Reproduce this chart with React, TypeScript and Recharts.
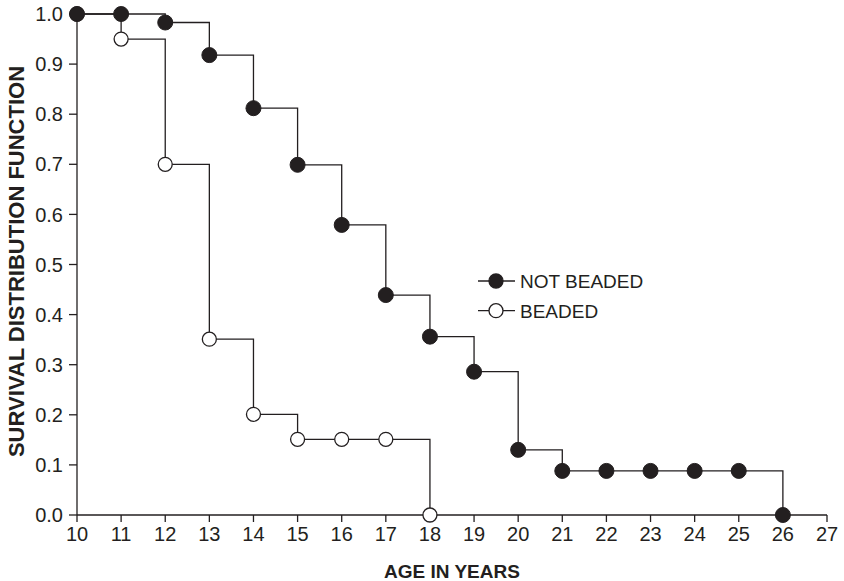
import { Line, LineChart, XAxis, YAxis } from "recharts";

const ages = [10, 11, 12, 13, 14, 15, 16, 17, 18, 19, 20, 21, 22, 23, 24, 25, 26];
const notBeaded = [1.0, 1.0, 0.983, 0.918, 0.812, 0.699, 0.579, 0.439, 0.356, 0.286, 0.13, 0.088, 0.088, 0.088, 0.088, 0.088, 0.0];
const beaded = [1.0, 0.95, 0.7, 0.351, 0.201, 0.151, 0.151, 0.151, 0.0];
const xTicks = [10, 11, 12, 13, 14, 15, 16, 17, 18, 19, 20, 21, 22, 23, 24, 25, 26, 27];
const yTicks = [0, 0.1, 0.2, 0.3, 0.4, 0.5, 0.6, 0.7, 0.8, 0.9, 1.0];

const notBeadedData = ages.map((age, i) => ({ age, value: notBeaded[i] }));
const beadedData = beaded.map((value, i) => ({ age: ages[i], value }));

const FONT = "'Liberation Sans', Arial, sans-serif";
const INK = "#231f20";

// legend sits inside the plot, right of the curves
function LegendBox() {
  const rows = [
    { label: "NOT BEADED", fill: INK },
    { label: "BEADED", fill: "#fff" },
  ];
  return (
    <svg width={200} height={60} style={{ position: "absolute", left: 478, top: 271, overflow: "visible" }}>
      {rows.map((r, i) => (
        <g key={r.label} transform={`translate(0, ${10 + i * 29.7})`}>
          <line x1={0} x2={37} y1={0} y2={0} stroke={INK} strokeWidth={1.3} />
          <circle cx={18} cy={0} r={7} fill={r.fill} stroke={INK} strokeWidth={1.3} />
          <text x={42} y={7} fontSize={19} fill={INK} fontFamily={FONT}>
            {r.label}
          </text>
        </g>
      ))}
    </svg>
  );
}

export default function App() {
  return (
    <div style={{ position: "absolute", left: 0, top: 0, width: 844, height: 581, background: "#fff" }}>
      <LineChart width={844} height={581} margin={{ top: 14, right: 17, bottom: 0, left: 0 }}>
        <XAxis
          type="number"
          dataKey="age"
          domain={[10, 27]}
          ticks={xTicks}
          allowDuplicatedCategory={false}
          stroke={INK}
          strokeWidth={1.3}
          tickSize={7}
          tickMargin={5}
          tick={{ fontSize: 20, fill: INK, fontFamily: FONT }}
          height={66}
          label={{ value: "AGE IN YEARS", position: "insideBottom", offset: 3, fontSize: 19, fontWeight: "bold", fill: INK, fontFamily: FONT }}
        />
        <YAxis
          type="number"
          domain={[0, 1]}
          ticks={yTicks}
          tickFormatter={(v: number) => v.toFixed(1)}
          stroke={INK}
          strokeWidth={1.3}
          tickSize={8}
          tickMargin={6}
          width={77}
          tick={{ fontSize: 20, fill: INK, fontFamily: FONT }}
          label={{ value: "SURVIVAL DISTRIBUTION FUNCTION", angle: -90, position: "center", dx: -22, dy: -3, fontSize: 22, fontWeight: "bold", fill: INK, fontFamily: FONT }}
        />
        <Line
          data={beadedData}
          dataKey="value"
          name="BEADED"
          type="stepAfter"
          stroke={INK}
          strokeWidth={1.3}
          dot={{ r: 7, fill: "#fff", stroke: INK, strokeWidth: 1.3 }}
          activeDot={false}
          isAnimationActive={false}
        />
        <Line
          data={notBeadedData}
          dataKey="value"
          name="NOT BEADED"
          type="stepAfter"
          stroke={INK}
          strokeWidth={1.3}
          dot={{ r: 7.5, fill: INK, stroke: INK, strokeWidth: 1 }}
          activeDot={false}
          isAnimationActive={false}
        />
      </LineChart>
      <LegendBox />
    </div>
  );
}
